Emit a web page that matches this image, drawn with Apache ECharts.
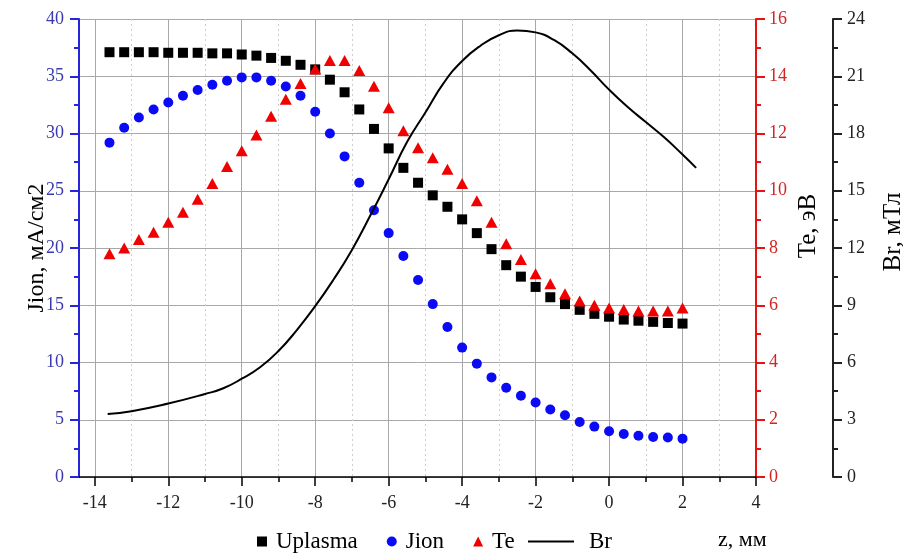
<!DOCTYPE html>
<html>
<head>
<meta charset="utf-8">
<script src="https://cdn.jsdelivr.net/npm/echarts@6/dist/echarts.min.js"></script>
<style>
  html, body { margin: 0; padding: 0; background: #fff; }
  #chart { width: 903px; height: 553px; }
</style>
</head>
<body>
<div id="chart"></div>
<script>
// z, мм — measurement positions
const zPoints = [-13.6, -13.2, -12.8, -12.4, -12.0, -11.6, -11.2, -10.8, -10.4, -10.0,
  -9.6, -9.2, -8.8, -8.4, -8.0, -7.6, -7.2, -6.8, -6.4, -6.0,
  -5.6, -5.2, -4.8, -4.4, -4.0, -3.6, -3.2, -2.8, -2.4, -2.0,
  -1.6, -1.2, -0.8, -0.4, 0.0, 0.4, 0.8, 1.2, 1.6, 2.0];
const uplasma = [37.1, 37.1, 37.1, 37.1, 37.05, 37.05, 37.05, 37.0, 37.0, 36.9,
  36.8, 36.6, 36.35, 36.0, 35.6, 34.7, 33.6, 32.1, 30.4, 28.7,
  27.0, 25.7, 24.6, 23.6, 22.5, 21.3, 19.9, 18.5, 17.5, 16.6,
  15.7, 15.1, 14.6, 14.25, 14.0, 13.75, 13.65, 13.55, 13.45, 13.4];
const jion = [29.2, 30.5, 31.4, 32.1, 32.7, 33.3, 33.8, 34.25, 34.6, 34.9,
  34.9, 34.6, 34.1, 33.3, 31.9, 30.0, 28.0, 25.7, 23.3, 21.3,
  19.3, 17.2, 15.1, 13.1, 11.3, 9.9, 8.7, 7.8, 7.1, 6.5,
  5.9, 5.4, 4.8, 4.4, 4.0, 3.75, 3.6, 3.5, 3.45, 3.35];
const te = [7.8, 8.0, 8.3, 8.55, 8.9, 9.25, 9.7, 10.25, 10.85, 11.4,
  11.95, 12.6, 13.2, 13.75, 14.25, 14.55, 14.55, 14.2, 13.65, 12.9,
  12.1, 11.5, 11.15, 10.75, 10.25, 9.65, 8.9, 8.15, 7.6, 7.1,
  6.75, 6.4, 6.15, 6.0, 5.9, 5.85, 5.8, 5.8, 5.8, 5.9];
// Br curve
const brZ = [-13.65, -13, -12, -11, -10.5, -10, -9.5, -9, -8.5, -8,
  -7.5, -7, -6.5, -6, -5.5, -5, -4.5, -4, -3.5, -3,
  -2.5, -2, -1.5, -1, -0.5, 0, 0.5, 1, 1.5, 2, 2.37];
const br = [3.3, 3.45, 3.85, 4.35, 4.65, 5.15, 5.75, 6.6, 7.7, 8.95,
  10.35, 11.9, 13.7, 15.6, 17.55, 19.1, 20.65, 21.8, 22.6, 23.15,
  23.4, 23.3, 22.9, 22.2, 21.3, 20.3, 19.4, 18.6, 17.8, 16.9, 16.2];
const xMajor = [-14, -12, -10, -8, -6, -4, -2, 0, 2, 4];
const xMinor = [-13, -11, -9, -7, -5, -3, -1, 1, 3];

const serif = "Liberation Serif";
const zip = (xs, ys) => xs.map((x, i) => [x, ys[i]]);

const chart = echarts.init(document.getElementById("chart"));
chart.setOption({
  animation: false,
  backgroundColor: "#fff",
  grid: { left: 79, right: 147, top: 19, bottom: 76, outerBoundsMode: "none", containLabel: false },
  legend: [
    {
      data: [
        { name: "Uplasma", icon: "rect" },
        { name: "Jion", icon: "circle" },
        { name: "Te", icon: "triangle" },
      ],
      left: 257,
      top: 530,
      padding: 0,
      itemWidth: 10,
      itemHeight: 10,
      itemGap: 29,
      textStyle: { fontFamily: serif, fontSize: 23, color: "#000", padding: [0, 0, 0, 4] },
    },
    {
      data: [{ name: "Br", icon: "rect" }],
      left: 528,
      top: 530,
      padding: 0,
      itemWidth: 46,
      itemHeight: 2,
      itemStyle: { color: "#000" },
      textStyle: { fontFamily: serif, fontSize: 23, color: "#000", padding: [0, 0, 0, 10] },
    },
  ],
  graphic: [
    {
      type: "text",
      left: 718,
      top: 529,
      style: { text: "z, мм", font: '22px "Liberation Serif"', fill: "#000" },
    },
  ],
  xAxis: [
    {
      type: "value",
      min: -14.43,
      max: 4,
      axisLine: { lineStyle: { color: "#000", width: 1.5 } },
      axisTick: { customValues: xMajor, length: 9, lineStyle: { color: "#000", width: 1.5 } },
      axisLabel: {
        customValues: xMajor,
        margin: 17,
        fontFamily: serif,
        fontSize: 18,
        color: "#222",
      },
      splitLine: { show: true, lineStyle: { color: "#a8a8a8", width: 1 } },
    },
    {
      type: "value",
      min: -14.43,
      max: 4,
      position: "bottom",
      axisLine: { show: false },
      axisTick: { customValues: xMinor, length: 5, lineStyle: { color: "#000", width: 1.5 } },
      axisLabel: { show: false },
      splitLine: { show: true, lineStyle: { color: "#cfcfcf", width: 1, type: [2, 3] } },
    },
  ],
  yAxis: [
    {
      type: "value",
      min: 0,
      max: 40,
      interval: 5,
      name: "Jion, мА/см2",
      nameLocation: "middle",
      nameRotate: 90,
      nameGap: 30,
      nameMoveOverlap: false,
      nameTextStyle: { fontFamily: serif, fontSize: 24, color: "#000" },
      axisLine: { show: true, onZero: false, lineStyle: { color: "#2626d8", width: 2 } },
      axisTick: { show: true, length: 9, lineStyle: { width: 2 } },
      minorTick: { show: true, splitNumber: 2, length: 5, lineStyle: { color: "#2626d8", width: 2 } },
      axisLabel: { margin: 15, fontFamily: serif, fontSize: 18, color: "#3a3ab0" },
      splitLine: { show: true, lineStyle: { color: "#a8a8a8", width: 1 } },
    },
    {
      type: "value",
      position: "right",
      min: 0,
      max: 16,
      interval: 2,
      name: "Te, эВ",
      nameLocation: "middle",
      nameRotate: 90,
      nameGap: 40,
      nameMoveOverlap: false,
      nameTextStyle: { fontFamily: serif, fontSize: 25, color: "#000", padding: [0, 0, 0, 44] },
      axisLine: { show: true, onZero: false, lineStyle: { color: "#e41414", width: 2 } },
      axisTick: { show: true, length: 9, lineStyle: { width: 2 } },
      minorTick: { show: true, splitNumber: 2, length: 5, lineStyle: { color: "#e41414", width: 2 } },
      axisLabel: { margin: 13, fontFamily: serif, fontSize: 18, color: "#d42424" },
      splitLine: { show: false },
    },
    {
      type: "value",
      position: "right",
      offset: 77,
      min: 0,
      max: 24,
      interval: 3,
      name: "Br, мТл",
      nameLocation: "middle",
      nameRotate: 90,
      nameGap: 48,
      nameMoveOverlap: false,
      nameTextStyle: { fontFamily: serif, fontSize: 25, color: "#000", padding: [0, 0, 0, 32] },
      axisLine: { show: true, onZero: false, lineStyle: { color: "#222", width: 2 } },
      axisTick: { show: true, length: 9, lineStyle: { width: 2 } },
      minorTick: { show: true, splitNumber: 2, length: 5, lineStyle: { color: "#222", width: 2 } },
      axisLabel: { margin: 14, fontFamily: serif, fontSize: 18, color: "#222" },
      splitLine: { show: false },
    },
  ],
  series: [
    {
      name: "Br",
      type: "line",
      xAxisIndex: 0,
      yAxisIndex: 2,
      data: zip(brZ, br),
      smooth: true,
      symbol: "none",
      lineStyle: { color: "#000", width: 2 },
      itemStyle: { color: "#000" },
    },
    {
      name: "Uplasma",
      type: "scatter",
      xAxisIndex: 0,
      yAxisIndex: 0,
      data: zip(zPoints, uplasma),
      symbol: "rect",
      symbolSize: 10,
      itemStyle: { color: "#000", opacity: 1 },
    },
    {
      name: "Jion",
      type: "scatter",
      xAxisIndex: 0,
      yAxisIndex: 0,
      data: zip(zPoints, jion),
      symbol: "circle",
      symbolSize: 10,
      itemStyle: { color: "#0a0af5", opacity: 1 },
    },
    {
      name: "Te",
      type: "scatter",
      xAxisIndex: 0,
      yAxisIndex: 1,
      data: zip(zPoints, te),
      symbol: "triangle",
      symbolSize: [12, 11],
      itemStyle: { color: "#f00000", opacity: 1 },
    },
  ],
});
</script>
</body>
</html>
